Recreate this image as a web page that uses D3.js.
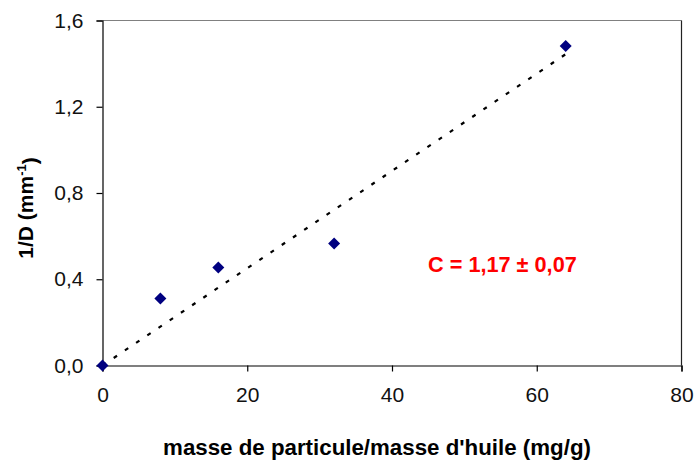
<!DOCTYPE html>
<html>
<head>
<meta charset="utf-8">
<script src="https://cdn.jsdelivr.net/npm/d3@7"></script>
<style>
  html, body { margin: 0; padding: 0; background: #fff; }
  svg { display: block; }
  text { font-family: "Liberation Sans", Arial, sans-serif; }
</style>
</head>
<body>
<svg id="chart" width="696" height="461"></svg>
<script>
// ---- data ----
const xValues = [0, 8, 16, 32, 64];
const yValues = [0, 0.311, 0.455, 0.566, 1.482];
const xTicks = [0, 20, 40, 60, 80];
const yTicks = [0, 0.4, 0.8, 1.2, 1.6];
const xTitle = "masse de particule/masse d'huile (mg/g)";
const annotation = "C = 1,17 ± 0,07";

// ---- layout ----
const svg = d3.select("#chart");
const m = { left: 102.5, right: 681.5, top: 20.5, bottom: 365.5 };

const x = d3.scaleLinear().domain([0, 80]).range([m.left, m.right]);
const y = d3.scaleLinear().domain([0, 1.6]).range([m.bottom, m.top]);

const fmt = d => d3.format(".1f")(d).replace(".", ",");

// plot frame (top/right)
svg.append("line").attr("x1", m.left).attr("x2", m.right).attr("y1", m.top).attr("y2", m.top)
  .attr("stroke", "#808080").attr("stroke-width", 1.2);
svg.append("line").attr("x1", m.right).attr("x2", m.right).attr("y1", m.top).attr("y2", m.bottom)
  .attr("stroke", "#222").attr("stroke-width", 1.2);

// axes
const xAxis = d3.axisBottom(x).tickValues(xTicks).tickSize(6).tickPadding(10).tickFormat(d3.format("d"));
const yAxis = d3.axisLeft(y).tickValues(yTicks).tickSize(6).tickPadding(13).tickFormat(fmt);

const gx = svg.append("g").attr("transform", `translate(0,${m.bottom})`).call(xAxis);
const gy = svg.append("g").attr("transform", `translate(${m.left},0)`).call(yAxis);
[gx, gy].forEach(g => {
  g.select(".domain").attr("stroke", "#000").attr("stroke-width", 1.2);
  g.selectAll(".tick line").attr("stroke", "#000").attr("stroke-width", 1.2);
  g.selectAll(".tick text").attr("fill", "#111").style("font-size", "21px")
    .style("font-family", '"Liberation Sans", Arial, sans-serif');
});
gx.selectAll(".tick text").attr("dy", "0.97em");

// trendline (linear through origin, fitted to the data)
const slope = d3.sum(xValues, (d, i) => d * yValues[i]) / d3.sum(xValues, d => d * d);
const xMax = d3.max(xValues);
svg.append("line")
  .attr("x1", x(0)).attr("y1", y(0))
  .attr("x2", x(xMax)).attr("y2", y(slope * xMax))
  .attr("stroke", "#000").attr("stroke-width", 2.2)
  .attr("stroke-dasharray", "4,9.5");

// markers (diamonds)
svg.append("g").selectAll("path")
  .data(xValues.map((d, i) => [d, yValues[i]]))
  .join("path")
  .attr("d", "M0,-6L6,0L0,6L-6,0Z")
  .attr("transform", d => `translate(${x(d[0])},${y(d[1])})`)
  .attr("fill", "#000080");

// axis titles
svg.append("text")
  .attr("x", 377).attr("y", 455)
  .attr("text-anchor", "middle")
  .style("font-size", "22.3px").style("font-weight", "bold").attr("fill", "#000")
  .text(xTitle);

const yt = svg.append("text")
  .attr("transform", "translate(33,208) rotate(-90)")
  .attr("text-anchor", "middle")
  .style("font-size", "21px").style("font-weight", "bold").attr("fill", "#000");
yt.append("tspan").text("1/D (mm");
yt.append("tspan").attr("dy", "-0.55em").style("font-size", "13px").text("-1");
yt.append("tspan").attr("dy", "0.55em").text(")");

// annotation
svg.append("text")
  .attr("x", 428).attr("y", 272)
  .style("font-size", "21.7px").style("font-weight", "bold").attr("fill", "#FF0000")
  .text(annotation);
</script>
</body>
</html>
